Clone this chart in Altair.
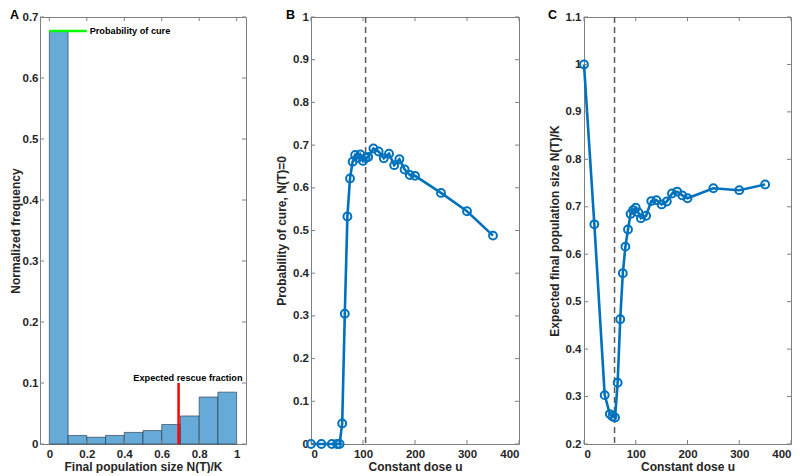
import altair as alt
import pandas as pd

# ---------------- data ----------------
panel_letters = ["A", "B", "C"]

# Panel A: histogram of final population size
bin_start = [0.0, 0.1, 0.2, 0.3, 0.4, 0.5, 0.6, 0.7, 0.8, 0.9]
bin_end = [0.1, 0.2, 0.3, 0.4, 0.5, 0.6, 0.7, 0.8, 0.9, 1.0]
freq = [0.677, 0.014, 0.011, 0.014, 0.019, 0.022, 0.032, 0.046, 0.077, 0.085]
cure_prob = 0.677
cure_span = [0.0, 0.2]
rescue_frac = 0.69
rescue_span = [0.0, 0.1]
annot_text = ["Probability of cure", "Expected rescue fraction"]
annot_x = [0.215, 0.74]
annot_y = [0.677, 0.103]

# Panels B and C: constant dose sweep
dose = [0, 20, 40, 50, 55, 60, 65, 70, 75, 80, 85, 90, 95, 100, 105, 110,
        120, 130, 140, 150, 160, 170, 180, 190, 200, 250, 300, 350]
cure = [0, 0, 0, 0, 0, 0.048, 0.305, 0.533, 0.622, 0.661, 0.677, 0.670,
        0.678, 0.663, 0.670, 0.672, 0.692, 0.685, 0.669, 0.680, 0.653, 0.667,
        0.643, 0.630, 0.628, 0.588, 0.545, 0.488]
final_size = [1.0, 0.663, 0.303, 0.263, 0.258, 0.256, 0.329, 0.463, 0.560,
              0.616, 0.652, 0.685, 0.693, 0.698, 0.688, 0.676, 0.681, 0.712,
              0.714, 0.705, 0.711, 0.728, 0.732, 0.724, 0.718, 0.739, 0.735,
              0.747]
dose_opt_b = 105
dose_opt_c = 59

xticks_a = [0, 0.2, 0.4, 0.6, 0.8, 1]
yticks_a = [0, 0.1, 0.2, 0.3, 0.4, 0.5, 0.6, 0.7]
xticks_bc = [0, 100, 200, 300, 400]
yticks_b = [0, 0.1, 0.2, 0.3, 0.4, 0.5, 0.6, 0.7, 0.8, 0.9, 1]
yticks_c = [0.2, 0.3, 0.4, 0.5, 0.6, 0.7, 0.8, 0.9, 1, 1.1]

# ---------------- style ----------------
FONT = "Liberation Sans"
AXC = "#808080"
BLUE = "#0072BD"
H = 427
TL = 4


def xaxis(vals, title):
    return alt.Axis(values=vals, format="~r", ticks=False, domain=False,
                    grid=False, title=title, labelPadding=4, titlePadding=2)


def yaxis(vals, title, lp=3, tp=3):
    return alt.Axis(values=vals, format="~r", ticks=False, domain=False,
                    grid=False, title=title, labelPadding=lp, titlePadding=tp)


def box_ticks(xvals, yvals, xs, ys, xa, ya, W):
    xt = pd.DataFrame({"tx": xvals})
    yt = pd.DataFrame({"ty": yvals})
    bx = alt.Chart(xt).mark_rule(color=AXC, strokeWidth=1)
    by = alt.Chart(yt).mark_rule(color=AXC, strokeWidth=1)
    xe = alt.X("tx:Q", scale=xs, axis=xa)
    ye = alt.Y("ty:Q", scale=ys, axis=ya)
    return [
        bx.encode(x=xe, y=alt.value(H), y2=alt.value(H - TL)),
        bx.encode(x=xe, y=alt.value(0), y2=alt.value(TL)),
        by.encode(y=ye, x=alt.value(0), x2=alt.value(TL)),
        by.encode(y=ye, x=alt.value(W), x2=alt.value(W - TL)),
    ]


def letter(ch, dx):
    return alt.Chart(pd.DataFrame({"t": [ch]})).mark_text(
        align="left", baseline="top", font=FONT, fontWeight="bold",
        fontSize=12.5, color="#000000"
    ).encode(text="t:N", x=alt.value(dx), y=alt.value(-8))


# ---------------- panel A ----------------
WA = 206
xs_a = alt.Scale(domain=[-0.05, 1.05], nice=False, zero=False)
ys_a = alt.Scale(domain=[0, 0.7], nice=False)
xa_a = xaxis(xticks_a, "Final population size N(T)/K")
ya_a = yaxis(yticks_a, "Normalized frequency", lp=2, tp=0)

hist_df = pd.DataFrame({"b0": bin_start, "b1": bin_end, "f": freq})
bars = alt.Chart(hist_df).mark_rect(
    color="#66AAD7", stroke="#1f2f3f", strokeWidth=0.6
).encode(
    x=alt.X("b0:Q", scale=xs_a, axis=xa_a),
    x2="b1:Q",
    y=alt.Y("f:Q", scale=ys_a, axis=ya_a),
    y2=alt.datum(0),
)
green = alt.Chart(pd.DataFrame({"b0": [cure_span[0]], "b1": [cure_span[1]], "f": [cure_prob]})).mark_rule(
    color="#00FF00", strokeWidth=2.5
).encode(x=alt.X("b0:Q", scale=xs_a, axis=xa_a), x2="b1:Q",
         y=alt.Y("f:Q", scale=ys_a, axis=ya_a))
red = alt.Chart(pd.DataFrame({"b0": [rescue_frac], "f": [rescue_span[0]], "f1": [rescue_span[1]]})).mark_rule(
    color="#FF0000", strokeWidth=2.5
).encode(x=alt.X("b0:Q", scale=xs_a, axis=xa_a),
         y=alt.Y("f:Q", scale=ys_a, axis=ya_a), y2="f1:Q")
t1 = alt.Chart(pd.DataFrame({"b0": [annot_x[0]], "f": [annot_y[0]], "t": [annot_text[0]]})).mark_text(
    align="left", baseline="middle", font=FONT, fontWeight="bold", fontSize=9.2, color="#000000"
).encode(x=alt.X("b0:Q", scale=xs_a, axis=xa_a), y=alt.Y("f:Q", scale=ys_a, axis=ya_a), text="t:N")
t2 = alt.Chart(pd.DataFrame({"b0": [annot_x[1]], "f": [annot_y[1]], "t": [annot_text[1]]})).mark_text(
    align="center", baseline="alphabetic", font=FONT, fontWeight="bold", fontSize=9.2, color="#000000"
).encode(x=alt.X("b0:Q", scale=xs_a, axis=xa_a), y=alt.Y("f:Q", scale=ys_a, axis=ya_a), text="t:N")

panel_a = alt.layer(
    bars, green, red, t1, t2, *box_ticks(xticks_a, yticks_a, xs_a, ys_a, xa_a, ya_a, WA),
    letter(panel_letters[0], -30)
).properties(width=WA, height=H)


# ---------------- panels B, C ----------------
def dose_panel(yvals, ydom, yticks, ytitle, xopt, W, let, dx, lp, tp):
    xs = alt.Scale(domain=[0, 400], nice=False)
    ys = alt.Scale(domain=ydom, nice=False, zero=False)
    xa = xaxis(xticks_bc, "Constant dose u")
    ya = yaxis(yticks, ytitle, lp=lp, tp=tp)
    df = pd.DataFrame({"u": dose, "v": yvals})
    vline = alt.Chart(pd.DataFrame({"u": [xopt]})).mark_rule(
        color="#5a5a5a", strokeWidth=1.5, strokeDash=[6, 4]
    ).encode(x=alt.X("u:Q", scale=xs, axis=xa))
    line = alt.Chart(df).mark_line(color=BLUE, strokeWidth=2.6).encode(
        x=alt.X("u:Q", scale=xs, axis=xa),
        y=alt.Y("v:Q", scale=ys, axis=ya),
    )
    pts = alt.Chart(df).mark_point(
        shape="circle", filled=False, color=BLUE, size=62, strokeWidth=2, opacity=1
    ).encode(x=alt.X("u:Q", scale=xs, axis=xa), y=alt.Y("v:Q", scale=ys, axis=ya))
    return alt.layer(
        vline, line, pts, *box_ticks(xticks_bc, yticks, xs, ys, xa, ya, W), letter(let, dx)
    ).properties(width=W, height=H)


panel_b = dose_panel(cure, [0, 1], yticks_b, "Probability of cure, N(T)=0",
                     dose_opt_b, 208, panel_letters[1], -25, 2.5, 4)
panel_c = dose_panel(final_size, [0.2, 1.1], yticks_c,
                     "Expected final population size N(T)/K",
                     dose_opt_c, 207, panel_letters[2], -36, 3, 4)

chart = alt.hconcat(panel_a, panel_b, panel_c, spacing=65, bounds="flush").properties(
    padding={"left": 0, "top": 0, "right": 0, "bottom": 0}
).configure_axis(
    labelFont=FONT, labelFontWeight="bold", labelFontSize=11.5, labelColor="#262626",
    titleFont=FONT, titleFontWeight="bold", titleFontSize=12, titleColor="#262626",
).configure_view(stroke=AXC, strokeWidth=1)

chart.save("out.html", embed_options={"renderer": "svg", "actions": False})
